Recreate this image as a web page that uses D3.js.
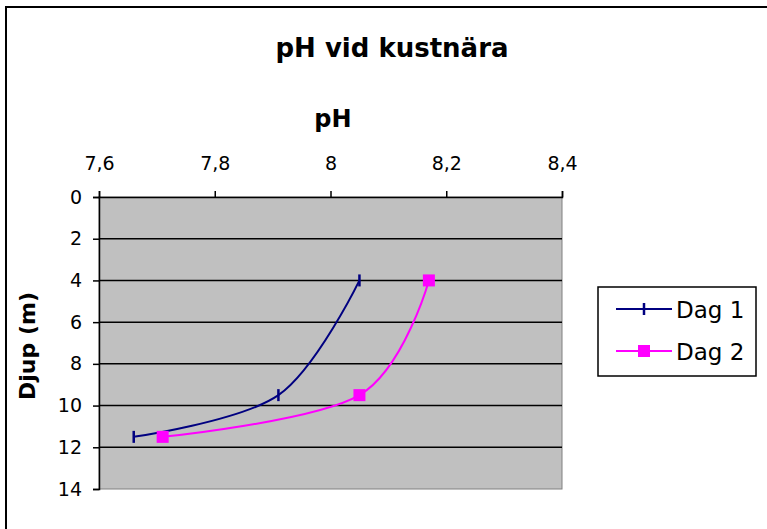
<!DOCTYPE html>
<html><head><meta charset="utf-8">
<script src="https://cdn.jsdelivr.net/npm/d3@7"></script>
<style>body{margin:0;background:#fff;} svg{display:block;font-family:"DejaVu Sans",Verdana,sans-serif;}</style>
</head><body>
<script>
const depths = [4, 9.5, 11.5];
const dag1 = [8.05, 7.91, 7.66];
const dag2 = [8.17, 8.05, 7.71];
const xTicks = [7.6, 7.8, 8.0, 8.2, 8.4];
const yTicks = [0, 2, 4, 6, 8, 10, 12, 14];
const seriesNames = ["Dag 1", "Dag 2"];

const W = 767, H = 529;
const FONT = '"DejaVu Sans",Verdana,sans-serif';
const svg = d3.select("body").append("svg").attr("width", W).attr("height", H);

// outer border
svg.append("rect").attr("x", 6).attr("y", 7).attr("width", 790).attr("height", 560)
  .attr("fill", "#fff").attr("stroke", "#000").attr("stroke-width", 2);

const x = d3.scaleLinear().domain([7.6, 8.4]).range([99, 562]);
const y = d3.scaleLinear().domain([0, 14]).range([197, 489]);

// plot area
svg.append("rect").attr("x", x(7.6)).attr("y", y(0)).attr("width", x(8.4) - x(7.6)).attr("height", y(14) - y(0))
  .attr("fill", "#c0c0c0").attr("stroke", "#808080").attr("stroke-width", 1);

// gridlines
svg.append("g").selectAll("line").data(yTicks.filter(d => d > 0 && d < 14)).join("line")
  .attr("x1", x(7.6)).attr("x2", x(8.4)).attr("y1", d => y(d)).attr("y2", d => y(d))
  .attr("stroke", "#000").attr("stroke-width", 1.5);

// axes
const fmt = d => String(+d.toFixed(1)).replace(".", ",");
const xAxis = svg.append("g").attr("transform", `translate(0,${y(0)})`)
  .call(d3.axisTop(x).tickValues(xTicks).tickFormat(fmt).tickSize(6).tickPadding(21));
const yAxis = svg.append("g").attr("transform", `translate(${x(7.6)},0)`)
  .call(d3.axisLeft(y).tickValues(yTicks).tickSize(6).tickPadding(11));
[xAxis, yAxis].forEach(a => {
  a.select(".domain").attr("stroke", "#000").attr("stroke-width", 1.5);
  a.selectAll(".tick line").attr("stroke", "#000").attr("stroke-width", 1.5);
  a.selectAll(".tick text").attr("fill", "#000").style("font-size", "19px").style("font-family", FONT);
});

// titles
svg.append("text").attr("x", 392).attr("y", 57).attr("text-anchor", "middle")
  .style("font-size", "26px").style("font-weight", "bold").text("pH vid kustnära");
svg.append("text").attr("x", 333).attr("y", 127).attr("text-anchor", "middle")
  .style("font-size", "24px").style("font-weight", "bold").text("pH");
svg.append("text").attr("transform", "translate(35,346) rotate(-90)").attr("text-anchor", "middle")
  .style("font-size", "22px").style("font-weight", "bold").text("Djup (m)");

// lines
const line = d3.line().curve(d3.curveCardinal.tension(0));
const s1 = dag1.map((v, i) => [x(v), y(depths[i])]);
const s2 = dag2.map((v, i) => [x(v), y(depths[i])]);
svg.append("path").attr("d", line(s1)).attr("fill", "none").attr("stroke", "#000080").attr("stroke-width", 2);
svg.append("path").attr("d", line(s2)).attr("fill", "none").attr("stroke", "#ff00ff").attr("stroke-width", 2);

// markers
svg.append("g").selectAll("line").data(s1).join("line")
  .attr("x1", d => d[0]).attr("x2", d => d[0]).attr("y1", d => d[1] - 6).attr("y2", d => d[1] + 6)
  .attr("stroke", "#000080").attr("stroke-width", 2.5);
svg.append("g").selectAll("rect").data(s2).join("rect")
  .attr("x", d => d[0] - 6).attr("y", d => d[1] - 6).attr("width", 12).attr("height", 12)
  .attr("fill", "#ff00ff");

// legend
const lg = svg.append("g");
lg.append("rect").attr("x", 598).attr("y", 287).attr("width", 158).attr("height", 89)
  .attr("fill", "#fff").attr("stroke", "#000").attr("stroke-width", 1.5);
const ly = [309, 351];
seriesNames.forEach((n, i) => {
  const c = i === 0 ? "#000080" : "#ff00ff";
  lg.append("line").attr("x1", 616).attr("x2", 672).attr("y1", ly[i]).attr("y2", ly[i]).attr("stroke", c).attr("stroke-width", 2);
  if (i === 0) lg.append("line").attr("x1", 644).attr("x2", 644).attr("y1", ly[i] - 6).attr("y2", ly[i] + 6).attr("stroke", c).attr("stroke-width", 2.5);
  else lg.append("rect").attr("x", 638).attr("y", ly[i] - 6).attr("width", 12).attr("height", 12).attr("fill", c);
  lg.append("text").attr("x", 676).attr("y", ly[i] + 9).style("font-size", "23px").text(n);
});
</script>
</body></html>
